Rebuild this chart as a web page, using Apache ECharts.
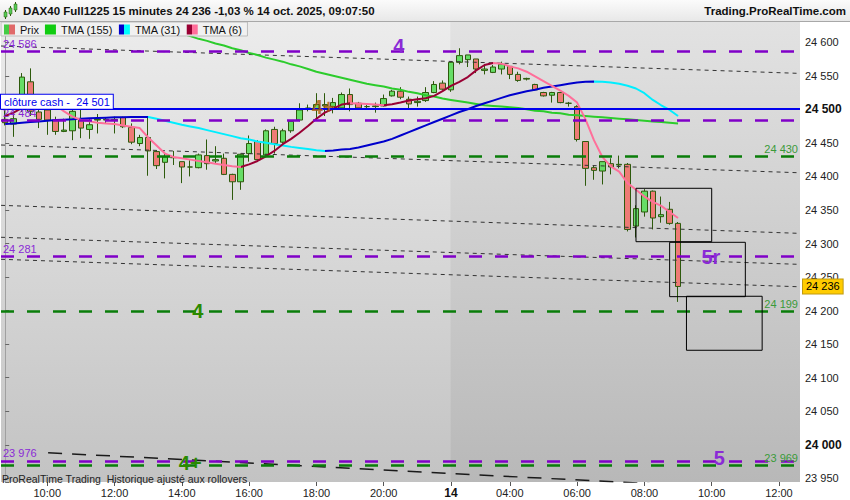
<!DOCTYPE html>
<html><head><meta charset="utf-8">
<script src="https://cdn.jsdelivr.net/npm/echarts@6/dist/echarts.min.js"></script>
<style>html,body{margin:0;padding:0;background:#fff}#c{width:850px;height:500px}</style>
</head><body><div id="c"></div>
<script>
// ---------- DATA ----------
const day13Times = ['08:45','09:00','09:15','09:30','09:45','10:00','10:15','10:30','10:45','11:00','11:15','11:30','11:45','12:00','12:15','12:30','12:45','13:00','13:15','13:30','13:45','14:00','14:15','14:30','14:45','15:00','15:15','15:30','15:45','16:00','16:15','16:30','16:45','17:00','17:15','17:30','17:45','18:00','18:15','18:30','18:45','19:00','19:15','19:30','19:45','20:00','20:15','20:30','20:45','21:00','21:15','21:30','21:45'];
const day14Times = ['02:15','02:30','02:45','03:00','03:15','03:30','03:45','04:00','04:15','04:30','04:45','05:00','05:15','05:30','05:45','06:00','06:15','06:30','06:45','07:00','07:15','07:30','07:45','08:00','08:15','08:30','08:45','09:00','09:15','09:30','09:45','10:00','10:15','10:30','10:45','11:00','11:15','11:30','11:45','12:00','12:15','12:30'];
const categories = day13Times.map(t => '13 ' + t).concat(day14Times.map(t => '14 ' + t));

const opens  = [24485,24478,24504,24541,24496,24499,24484,24467,24468,24484,
                24470,24484,24484,24485,24488,24473,24449,24458,24437,24421,
                24428,24422,24414,24413,24431,24423,24427,24403,24392,24434,
                24452,24432,24470,24451,24468,24484,24502,24500,24507,24504,
                24502,24522,24509,24504,24504,24505,24520,24527,24515,24510,
                24513,24525,24539,24529,24570,24574,24575,24558,24555,24560,
                24564,24552,24545,24537,24525,24521,24525,24509,24504,24452,
                24413,24408,24419,24417,24418,24326,24347,24378,24340,24351,
                24330];
const closes = [24480,24486,24548,24497,24485,24484,24467,24469,24497,24472,
                24477,24485,24485,24484,24474,24451,24458,24438,24416,24429,
                24428,24414,24414,24432,24419,24425,24403,24392,24433,24449,
                24425,24468,24449,24468,24482,24499,24501,24507,24505,24510,
                24522,24507,24502,24504,24505,24516,24527,24518,24508,24512,
                24525,24537,24530,24570,24580,24581,24560,24560,24563,24567,
                24552,24543,24546,24529,24520,24525,24510,24509,24455,24412,
                24409,24422,24414,24418,24321,24352,24378,24338,24343,24330,
                24236];
const lows   = [24476,24459,24496,24490,24472,24462,24462,24466,24454,24457,
                24456,24464,24479,24464,24472,24448,24445,24401,24411,24397,
                24417,24390,24400,24412,24410,24419,24402,24365,24380,24422,
                24424,24429,24434,24449,24465,24482,24497,24487,24490,24494,
                24500,24497,24500,24500,24495,24504,24519,24515,24500,24504,
                24511,24524,24529,24526,24567,24563,24554,24552,24554,24552,
                24545,24541,24543,24528,24519,24510,24509,24504,24452,24386,
                24395,24388,24403,24412,24318,24309,24340,24321,24331,24328,
                24213];
const highs  = [24506,24496,24554,24561,24499,24501,24489,24486,24499,24499,
                24486,24493,24488,24489,24489,24479,24462,24488,24439,24434,
                24438,24422,24424,24434,24455,24445,24434,24404,24434,24461,
                24454,24470,24474,24471,24484,24509,24507,24524,24524,24517,
                24525,24531,24511,24507,24510,24522,24529,24533,24519,24519,
                24533,24542,24543,24571,24591,24581,24575,24567,24566,24571,
                24564,24556,24547,24538,24526,24526,24526,24511,24506,24452,
                24416,24422,24427,24431,24420,24357,24381,24379,24370,24362,
                24332];

const tma155 = [24686,24683,24679,24676,24672,24669,24665,24662,24658,24655,
                24651,24648,24644,24641,24637,24634,24630,24627,24623,24620,
                24616,24613,24609,24605,24602,24598,24595,24591,24588,24584,
                24581,24577,24574,24571,24567,24564,24560,24556,24553,24550,
                24547,24544,24541,24538,24536,24534,24531,24529,24526,24524,
                24521,24519,24516,24514,24512,24510,24508,24506,24505,24504,
                24503,24502,24500,24498,24497,24495,24494,24492,24491,24490,
                24489,24488,24487,24486,24485,24484,24483,24482,24481,24480,
                24479];
const tma31  = [24478,24479,24480,24481,24482,24483,24484,24484.5,24485,24486,
                24486.5,24487,24487.5,24488,24488,24488.5,24488.5,24488.5,24486,24483,
                24480,24477,24474.5,24472,24469,24466,24463,24460,24457,24455,
                24452,24450,24448,24446,24444,24442.5,24441,24439,24438,24438.5,
                24440,24441,24443,24446,24449,24452,24456,24461,24466,24471,
                24476,24481,24486,24491,24496,24500,24505,24509,24513,24517,
                24521,24524,24527,24529,24532,24534,24536,24538,24540,24541,
                24541.5,24541,24540,24538,24535,24531,24524,24514,24506,24499,
                24490];
const tma6   = [24490,24495,24502,24508,24511,24512,24506,24497,24489,24484,
                24482,24480,24479,24478,24476,24474,24472,24458,24446,24434,
                24429,24427,24425,24423,24421,24419,24417,24415,24414,24418,
                24423,24430,24438,24448,24456,24465,24475,24486,24495,24501,
                24507,24509,24508.5,24508,24507,24506,24507.5,24510,24513,24515,
                24516.5,24520,24527,24535,24541,24548,24558,24566,24569,24568,
                24564,24561,24556,24549,24542,24535,24528,24520,24510,24485,
                24454,24429,24415,24407,24390,24380,24370,24362,24356,24347,
                24338];

const purpleLevels = [24586, 24484, 24281, 23976];
const greenLevels  = [24430, 24199, 23969];
const cashClose = 24501;
const lastPrice = 24236;

// trend lines: [bar index, price] end points
const thinTrendLines = [
  {from: [-0.5, 24594.3], to: [94.5, 24553.5]},
  {from: [-0.5, 24446.8], to: [94.5, 24405.4]},
  {from: [-0.5, 24356.9], to: [94.5, 24315.1]},
  {from: [-0.5, 24309.3], to: [94.5, 24268.9]},
  {from: [-0.5, 24276.5], to: [94.5, 24235.5]}
];
const longTrendLine = {from: [5.1, 23988.3], to: [80, 23939.9]};

// rectangles: bar index range and price range
const boxes = [
  {x0: 75, x1: 84, top: 24382.3, bottom: 24302.7},
  {x0: 79, x1: 88, top: 24301.8, bottom: 24220.8},
  {x0: 81, x1: 90, top: 24221.4, bottom: 24140.9}
];

// text annotations: [bar index, price]
const annotations = [
  {text: '4',  at: [46.8, 24595],   kind: 'purple'},
  {text: '5r', at: [83.9, 24280],   kind: 'purple'},
  {text: '5',  at: [84.9, 23979.7], kind: 'purple'},
  {text: '4',  at: [22.9, 24200],   kind: 'green'},
  {text: '4+', at: [22.0, 23973],   kind: 'green'},
  {text: '4+', at: [37.8, 24504],   kind: 'brown'}
];

const dayBoundary = 52.9;   // bar-index position of the session change

// ---------- STYLE ----------
const FONT = '"Liberation Sans", Arial, Helvetica, sans-serif';
const PURPLE = '#8000c8', PURPLE_TXT = '#8a2ad6';
const GREEN = '#0a7d0a', GREEN_TXT = '#3a9a3a';
const UP = '#66dd66', DOWN = '#ee7b75', BORDER = '#2d5a0c';
const Y_MIN = 23944.6, Y_MAX = 24630.1;
const X_MIN = -0.5, X_MAX = categories.length - 0.5;

function fmtPrice(v) {
  const r = Math.round(v);
  return Math.floor(r / 1000) + ' ' + String(r % 1000).padStart(3, '0');
}
function vgrad(a, b) {
  return {type: 'linear', x: 0, y: 0, x2: 0, y2: 1, colorStops: [{offset: 0, color: a}, {offset: 1, color: b}]};
}
function hsplit(a, b) {
  return {type: 'linear', x: 0, y: 0, x2: 1, y2: 0,
    colorStops: [{offset: 0, color: a}, {offset: 0.5, color: a}, {offset: 0.5, color: b}, {offset: 1, color: b}]};
}
function dirPieces(vals, up, down) {
  const pieces = [];
  let start = -1, cur = null;
  for (let k = 0; k < vals.length - 1; k++) {
    const d = vals[k + 1] >= vals[k];
    if (cur === null) cur = d;
    else if (d !== cur) {
      pieces.push({gte: start, lt: k, color: cur ? up : down});
      start = k; cur = d;
    }
  }
  pieces.push({gte: start, lte: 1000, color: cur ? up : down});
  return pieces;
}
function isDayStart(i) {
  return i > 0 && categories[i - 1].split(' ')[0] !== categories[i].split(' ')[0];
}
function showXLabel(i) {
  if (isDayStart(i)) return true;
  const t = categories[i].split(' ')[1].split(':');
  return t[1] === '00' && (+t[0]) % 2 === 0;
}

const candleData = opens.map((o, i) => [o, closes[i], lows[i], highs[i]]);
const annColor = {purple: PURPLE_TXT, green: '#2a8a00', brown: 'rgba(170,90,10,0.8)'};

// ---------- SERIES ----------
const series = [];
// background sessions
series.push({
  type: 'line', xAxisIndex: 1, data: [], silent: true,
  markArea: {silent: true, z: 0, data: [
    [{xAxis: X_MIN, itemStyle: {color: vgrad('#ececec', '#c3c3c3')}}, {xAxis: dayBoundary}],
    [{xAxis: dayBoundary, itemStyle: {color: vgrad('#e2e2e2', '#b8b8b8')}}, {xAxis: X_MAX}]
  ]}
});
// thin trend lines
thinTrendLines.forEach(t => series.push({
  type: 'line', xAxisIndex: 1, data: [t.from, t.to], symbol: 'none', showSymbol: false, silent: true, z: 3,
  lineStyle: {color: '#333', width: 1, type: [4, 4]}
}));
series.push({
  type: 'line', xAxisIndex: 1, data: [longTrendLine.from, longTrendLine.to], symbol: 'none', showSymbol: false, silent: true, z: 3,
  lineStyle: {color: '#1a1a1a', width: 1.5, type: [14, 10]}
});
// candles
series.push({
  name: 'Prix', type: 'candlestick', xAxisIndex: 0, data: candleData, barWidth: 6, z: 2,
  itemStyle: {color: UP, color0: DOWN, borderColor: BORDER, borderColor0: BORDER, borderWidth: 1},
  markLine: {
    silent: true, symbol: ['none', 'none'], z: 8,
    data: [{yAxis: lastPrice, lineStyle: {color: 'rgba(0,0,0,0)', width: 0},
      label: {show: true, position: 'end', distance: 3, formatter: fmtPrice(lastPrice), color: '#000', fontSize: 11, fontFamily: FONT,
        backgroundColor: '#ffcc00', borderColor: '#c09a10', borderWidth: 1, padding: [2, 3, 1, 3], opacity: 1}}]
  }
});
// TMA lines
const idx155 = series.length;
series.push({name: 'TMA (155)', type: 'line', data: tma155, symbol: 'none', showSymbol: false, z: 4, silent: true,
  lineStyle: {color: '#2ccc2c', width: 2}, itemStyle: {color: '#2ccc2c'}});
const idx31 = series.length;
series.push({name: 'TMA (31)', type: 'line', data: tma31, symbol: 'none', showSymbol: false, z: 4, silent: true,
  lineStyle: {width: 2}, itemStyle: {color: '#0000cc'}});
const idx6 = series.length;
series.push({name: 'TMA (6)', type: 'line', data: tma6, symbol: 'none', showSymbol: false, z: 4, silent: true,
  lineStyle: {width: 2}, itemStyle: {color: '#990033'}});
// horizontal levels
series.push({
  type: 'line', xAxisIndex: 1, data: [], silent: true,
  markLine: {silent: true, symbol: ['none', 'none'], z: 5, data: [
    ...purpleLevels.map(v => ({yAxis: v, lineStyle: {color: PURPLE, width: 2.5, type: [13, 13]},
      label: {show: true, position: 'insideStartTop', distance: 2, formatter: fmtPrice(v), color: PURPLE_TXT, fontSize: 11, fontFamily: FONT}})),
    ...greenLevels.map(v => ({yAxis: v, lineStyle: {color: GREEN, width: 2.5, type: [13, 13]},
      label: {show: true, position: 'insideEndTop', distance: 2, formatter: fmtPrice(v), color: GREEN_TXT, fontSize: 11, fontFamily: FONT}})),
    {yAxis: cashClose, lineStyle: {color: '#0000ee', width: 2, type: 'solid'},
      label: {show: true, position: 'insideStartTop', distance: 0, formatter: 'clôture cash -  ' + fmtPrice(cashClose),
        color: '#0000ee', fontSize: 11, fontFamily: FONT, backgroundColor: '#ffffff', borderColor: '#0000ee', borderWidth: 1, padding: [2, 3, 1, 3]}}
  ]}
});
// boxes
series.push({
  type: 'line', xAxisIndex: 1, data: [], silent: true,
  markArea: {silent: true, z: 6, itemStyle: {color: 'rgba(0,0,0,0)', borderColor: '#000', borderWidth: 1},
    data: boxes.map(b => [{coord: [b.x0, b.top]}, {coord: [b.x1, b.bottom]}])}
});
// annotations
series.push({
  type: 'line', xAxisIndex: 1, data: [], silent: true,
  markPoint: {silent: true, z: 7, symbol: 'circle', symbolSize: 1, itemStyle: {color: 'rgba(0,0,0,0)'},
    data: annotations.map(a => ({coord: a.at,
      label: {show: true, position: 'inside', formatter: a.text, color: annColor[a.kind], fontSize: 20, lineHeight: 13,
        fontWeight: 'bold', fontFamily: FONT}}))}
});

const option = {
  animation: false,
  backgroundColor: '#ffffff',
  textStyle: {fontFamily: FONT},
  grid: {left: 1, right: 50, top: 22, bottom: 18, containLabel: false},
  legend: {
    left: 1, top: 22, z: 20, orient: 'horizontal', itemWidth: 11, itemHeight: 10, itemGap: 6,
    padding: [2, 5, 1, 3], backgroundColor: '#f1f1f1', borderColor: '#bdbdbd', borderWidth: 1,
    textStyle: {fontSize: 11, color: '#111', fontFamily: FONT},
    itemStyle: {borderWidth: 0}, selectedMode: false,
    data: [
      {name: 'Prix', icon: 'rect', itemStyle: {color: hsplit('#44cc44', '#e06a6a')}},
      {name: 'TMA (155)', icon: 'rect', itemStyle: {color: '#11cc11'}},
      {name: 'TMA (31)', icon: 'rect', itemStyle: {color: hsplit('#0000cc', '#00ffff')}},
      {name: 'TMA (6)', icon: 'rect', itemStyle: {color: hsplit('#990033', '#ff6f9a')}}
    ]
  },
  visualMap: [
    {type: 'piecewise', show: false, dimension: 0, seriesIndex: idx31, pieces: dirPieces(tma31, '#0000cc', '#00eeff')},
    {type: 'piecewise', show: false, dimension: 0, seriesIndex: idx6, pieces: dirPieces(tma6, '#990033', '#ff6f9a')}
  ],
  xAxis: [
    {type: 'category', data: categories, boundaryGap: true,
      axisLine: {show: false},
      axisTick: {show: true, alignWithLabel: true, interval: (i) => showXLabel(i), length: 4, lineStyle: {color: '#555'}},
      axisLabel: {interval: (i) => showXLabel(i), margin: 5, fontSize: 11, color: '#222', fontFamily: FONT,
        formatter: (v, i) => isDayStart(i) ? '{d|' + v.split(' ')[0] + '}' : v.split(' ')[1],
        rich: {d: {fontWeight: 'bold', fontSize: 12, color: '#111', fontFamily: FONT}}},
      splitLine: {show: false}},
    {type: 'value', min: X_MIN, max: X_MAX, show: false}
  ],
  yAxis: {
    type: 'value', position: 'right', min: Y_MIN, max: Y_MAX, scale: true,
    minInterval: 50, maxInterval: 50, splitNumber: 13,
    axisLine: {show: true, lineStyle: {color: '#a0a0a0'}},
    axisTick: {show: true, length: 4, lineStyle: {color: '#666'}},
    splitLine: {show: false},
    axisLabel: {margin: 5, fontSize: 11, color: '#222', fontFamily: FONT,
      formatter: v => {
        if (Math.abs(v / 50 - Math.round(v / 50)) > 1e-6) return '';
        const s = fmtPrice(v);
        return Math.round(v) % 500 === 0 ? '{b|' + s + '}' : s;
      },
      rich: {b: {fontWeight: 'bold', fontSize: 12, color: '#111', fontFamily: FONT}}}
  },
  graphic: [
    {type: 'rect', z: 100, shape: {x: 0, y: 0, width: 850, height: 21}, style: {fill: vgrad('#fbfbfb', '#e8e8e8')}},
    {type: 'line', z: 101, shape: {x1: 0, y1: 21.5, x2: 850, y2: 21.5}, style: {stroke: '#a8a8a8', lineWidth: 1}},
    {type: 'line', z: 101, shape: {x1: 5.5, y1: 10, x2: 5.5, y2: 19}, style: {stroke: '#2d5a0c', lineWidth: 1}},
    {type: 'rect', z: 102, shape: {x: 4, y: 12, width: 3, height: 5}, style: {fill: '#55cc55', stroke: '#2d5a0c', lineWidth: 0.5}},
    {type: 'line', z: 101, shape: {x1: 10.5, y1: 6, x2: 10.5, y2: 16}, style: {stroke: '#2d5a0c', lineWidth: 1}},
    {type: 'rect', z: 102, shape: {x: 9, y: 8, width: 3, height: 6}, style: {fill: '#55cc55', stroke: '#2d5a0c', lineWidth: 0.5}},
    {type: 'line', z: 101, shape: {x1: 15.5, y1: 2, x2: 15.5, y2: 12}, style: {stroke: '#2d5a0c', lineWidth: 1}},
    {type: 'rect', z: 102, shape: {x: 14, y: 4, width: 3, height: 6}, style: {fill: '#55cc55', stroke: '#2d5a0c', lineWidth: 0.5}},
    {type: 'text', z: 102, left: 23, top: 5,
      style: {text: 'DAX40 Full1225 15 minutes 24 236 -1,03 % 14 oct. 2025, 09:07:50', font: 'bold 11.5px ' + FONT, fill: '#111'}},
    {type: 'text', z: 102, right: 4, top: 5,
      style: {text: 'Trading.ProRealTime.com', font: 'bold 11.5px ' + FONT, fill: '#111'}},
    {type: 'text', z: 102, left: 2, top: 473,
      style: {text: 'ProRealTime Trading  Historique ajusté aux rollovers', font: '10.5px ' + FONT, fill: '#222', lineHeight: 9}}
  ],
  series: series
};

const chart = echarts.init(document.getElementById('c'), null, {renderer: 'svg'});
chart.setOption(option);
</script>
</body></html>
